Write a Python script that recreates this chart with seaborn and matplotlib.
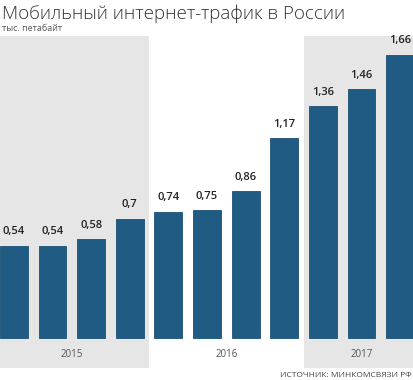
import pandas as pd
import matplotlib
matplotlib.use('Agg')
import matplotlib.pyplot as plt
import seaborn as sns

# data: quarterly mobile internet traffic, thousand petabytes
quarters = ['I 2015', 'II 2015', 'III 2015', 'IV 2015',
            'I 2016', 'II 2016', 'III 2016', 'IV 2016',
            'I 2017', 'II 2017', 'III 2017']
traffic = [0.54, 0.54, 0.58, 0.70, 0.74, 0.75, 0.86, 1.17, 1.36, 1.46, 1.66]
value_labels = ['0,54', '0,54', '0,58', '0,7', '0,74', '0,75', '0,86', '1,17', '1,36', '1,46', '1,66']
years = ['2015', '2016', '2017']
year_first = [0, 4, 8]
year_last = [3, 7, 10]

df = pd.DataFrame({'quarter': quarters, 'traffic': traffic})

sns.set_theme(style='white')
plt.rcParams['font.family'] = ['Open Sans', 'DejaVu Sans']

fig = plt.figure(figsize=(4.14, 3.8), dpi=100)
ax = fig.add_axes([0, 12 / 380, 1, 332 / 380])

# grey background bands for 2015 and 2017
ax.axvspan(-0.36, 3.5, color='#e6e6e6', zorder=0, lw=0)
ax.axvspan(7.5, 10.36, color='#e6e6e6', zorder=0, lw=0)

sns.barplot(data=df, x='quarter', y='traffic', color='#1f5b82', saturation=1,
            width=0.72, ax=ax, zorder=2, edgecolor='#1a5075', linewidth=0.6)

for i, (v, lab) in enumerate(zip(traffic, value_labels)):
    ax.text(i, v + 0.05, lab, ha='center', va='bottom', fontsize=8,
            color='#222222', fontweight='semibold', clip_on=False)

for y, a, b in zip(years, year_first, year_last):
    ax.text((a + b) / 2, -0.095, y, ha='center', va='center', fontsize=7, color='#555555')

ax.set_xlim(-0.36, 10.36)
ax.set_ylim(-0.176, 1.771)
ax.axis('off')

fig.text(0.005, 0.965, 'Мобильный интернет-трафик в России', fontsize=13.5,
         fontweight='light', color='#333333', ha='left', va='center')
fig.text(0.005, 0.925, 'тыс. петабайт', fontsize=6.5, color='#555555', ha='left', va='center')
fig.text(0.995, 0.012, 'ИСТОЧНИК: МИНКОМСВЯЗИ РФ', fontsize=6, color='#444444',
         ha='right', va='center')

fig.savefig('out.png', dpi=100)
